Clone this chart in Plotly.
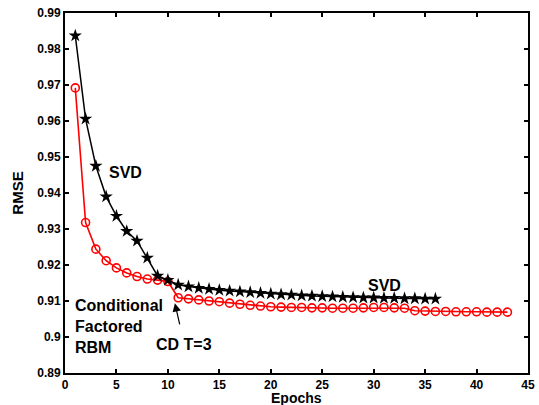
import plotly.graph_objects as go

svd_epochs = list(range(1, 37))
svd_rmse = [0.9837, 0.9606, 0.9475, 0.9390, 0.9336, 0.9294, 0.9267, 0.9220, 0.9170, 0.9158,
            0.9145, 0.9140, 0.9136, 0.9133, 0.9130, 0.9128, 0.9126, 0.9124, 0.9122, 0.9120,
            0.9118, 0.9117, 0.9115, 0.9114, 0.9113, 0.9112, 0.9111, 0.9110, 0.9109, 0.9109,
            0.9108, 0.9108, 0.9107, 0.9107, 0.9106, 0.9106]

rbm_epochs = list(range(1, 44))
rbm_rmse = [0.9692, 0.9318, 0.9244, 0.9212, 0.9192, 0.9178, 0.9168, 0.9161, 0.9158, 0.9154,
            0.9109, 0.9106, 0.9103, 0.9100, 0.9098, 0.9094, 0.9091, 0.9088, 0.9086, 0.9084,
            0.9083, 0.9082, 0.9082, 0.9081, 0.9081, 0.9080, 0.9080, 0.9080, 0.9081, 0.9082,
            0.9082, 0.9081, 0.9080, 0.9073, 0.9072, 0.9071, 0.9071, 0.9070, 0.9070, 0.9070,
            0.9069, 0.9069, 0.9069]

x_ticks = [0, 5, 10, 15, 20, 25, 30, 35, 40, 45]
y_ticks = [0.89, 0.90, 0.91, 0.92, 0.93, 0.94, 0.95, 0.96, 0.97, 0.98, 0.99]
y_tick_labels = ["0.89", "0.9", "0.91", "0.92", "0.93", "0.94", "0.95", "0.96", "0.97", "0.98", "0.99"]

fig = go.Figure()
fig.add_trace(go.Scatter(
    x=rbm_epochs, y=rbm_rmse, mode="lines+markers",
    line=dict(color="#ff0000", width=1.6),
    marker=dict(symbol="circle-open", size=8, color="#ff0000", line=dict(width=1.6)),
    showlegend=False))
fig.add_trace(go.Scatter(
    x=svd_epochs, y=svd_rmse, mode="lines+markers",
    line=dict(color="black", width=1.5),
    marker=dict(symbol="star", size=10, color="black"),
    showlegend=False))

FONT = "Liberation Sans, Arial, sans-serif"
font_b = dict(family=FONT, size=16, color="black")

fig.add_annotation(x=4.1, y=0.9456, text="<b>SVD</b>", showarrow=False, font=font_b,
                   xanchor="left", yanchor="middle")
fig.add_annotation(x=29.3, y=0.9144, text="<b>SVD</b>", showarrow=False, font=font_b,
                   xanchor="left", yanchor="middle")
fig.add_annotation(x=0.75, y=0.9028, text="<b>Conditional<br>Factored<br>RBM</b>", showarrow=False,
                   font=font_b, xanchor="left", yanchor="middle", align="left")
fig.add_annotation(x=10.68, y=0.9094, ax=11.18, ay=0.9031, axref="x", ayref="y",
                   text="", showarrow=True, arrowhead=2, arrowsize=1.4, arrowwidth=1.2,
                   arrowcolor="black")
fig.add_annotation(x=11.6, y=0.8978, text="<b>CD T=3</b>", showarrow=False, font=font_b,
                   xanchor="center", yanchor="middle")
# x-axis title, placed just under the tick labels as in the reference
fig.add_annotation(x=0.5, y=0, xref="paper", yref="paper", text="<b>Epochs</b>",
                   showarrow=False, xanchor="center", yanchor="top", yshift=-15,
                   font=dict(family=FONT, size=14, color="black"))

axis_common = dict(showline=True, linecolor="black", linewidth=2, mirror="ticks",
                   ticks="inside", ticklen=4, tickwidth=1.5, tickcolor="black",
                   showgrid=False, zeroline=False, automargin=False,
                   tickfont=dict(family=FONT, size=12, color="black"))

fig.update_xaxes(range=[0, 45], tickvals=x_ticks, ticktext=[f"<b>{v}</b>" for v in x_ticks],
                 **axis_common)
fig.update_yaxes(range=[0.89, 0.99], tickvals=y_ticks, ticktext=[f"<b>{t}</b>" for t in y_tick_labels],
                 title=dict(text="<b>RMSE</b>", standoff=10,
                            font=dict(family=FONT, size=15, color="black")),
                 **axis_common)

fig.update_layout(width=539, height=405, margin=dict(l=65, r=11, t=13, b=32),
                  plot_bgcolor="white", paper_bgcolor="white")

fig.write_html("out.html", config={"displayModeBar": False},
               post_script="document.body.style.margin='0';document.body.style.overflow='hidden';")
